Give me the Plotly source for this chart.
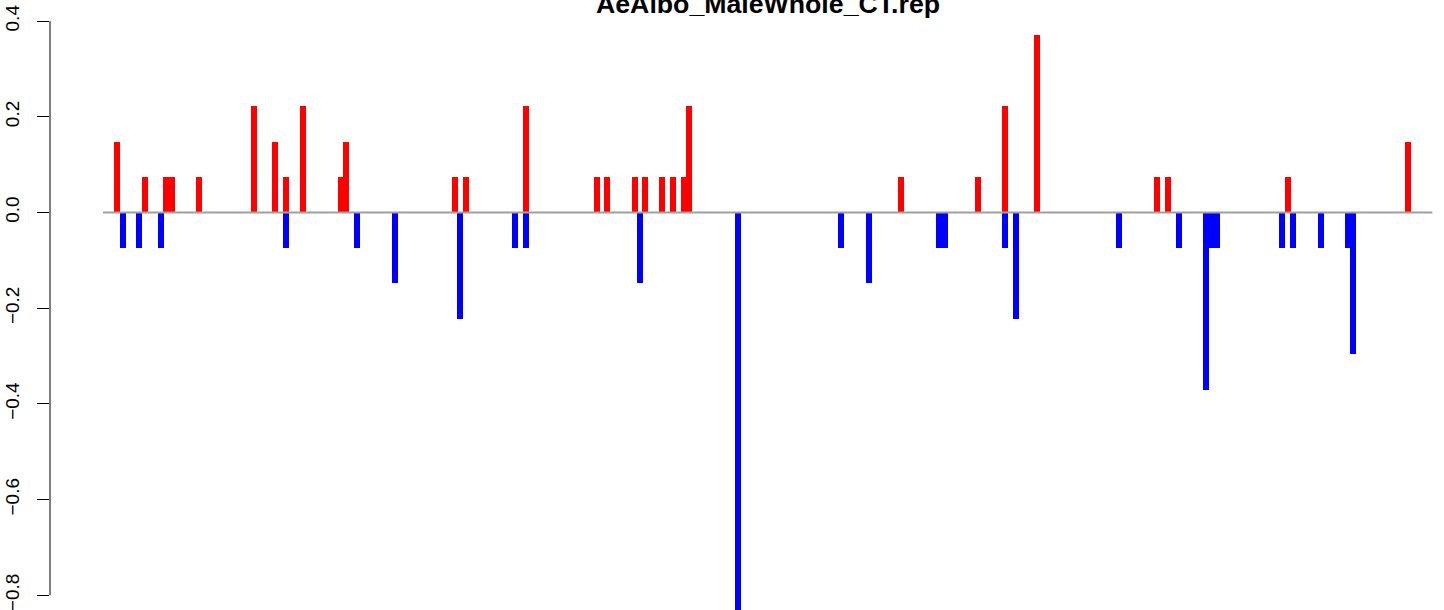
import plotly.graph_objects as go

# ---- data (positions in bins, values) ----
title_text = "AeAlbo_MaleWhole_CT.rep"

red_pos = [2.55, 7.64, 11.45, 12.55, 17.45, 27.45, 31.27, 33.27, 36.36, 43.27, 44.18,
           64.0, 66.0, 76.91, 89.82, 91.64, 96.73, 98.55, 101.64, 103.64, 105.64, 106.55,
           145.09, 159.09, 164.0, 169.82, 191.64, 193.64, 215.45, 237.27]
red_val = [0.148, 0.074, 0.074, 0.074, 0.074, 0.222, 0.148, 0.074, 0.222, 0.074, 0.148,
           0.074, 0.074, 0.222, 0.074, 0.074, 0.074, 0.074, 0.074, 0.074, 0.074, 0.222,
           0.074, 0.074, 0.222, 0.370, 0.074, 0.074, 0.074, 0.148]

blue_pos = [3.64, 6.55, 10.55, 33.27, 46.18, 53.09, 64.91, 74.91, 76.91, 97.64, 115.45,
            134.18, 139.27, 152.0, 153.09, 164.0, 166.0, 184.73, 195.64, 200.55, 201.64,
            202.55, 214.36, 216.36, 221.45, 226.36, 227.27]
blue_val = [-0.074, -0.074, -0.074, -0.074, -0.074, -0.148, -0.222, -0.074, -0.074, -0.148, -0.852,
            -0.074, -0.148, -0.074, -0.074, -0.074, -0.222, -0.074, -0.074, -0.370, -0.074,
            -0.074, -0.074, -0.074, -0.074, -0.074, -0.296]

baseline_x = [0, 241.7]
y_ticks = [-0.8, -0.6, -0.4, -0.2, 0.0, 0.2, 0.4]

fig = go.Figure()
fig.add_trace(go.Bar(x=red_pos, y=red_val, width=1.1, marker=dict(color="#ff0000", line=dict(width=0)),
                     showlegend=False, hoverinfo="x+y"))
fig.add_trace(go.Bar(x=blue_pos, y=blue_val, width=1.1, marker=dict(color="#0000ff", line=dict(width=0)),
                     showlegend=False, hoverinfo="x+y"))
fig.add_trace(go.Scatter(x=baseline_x, y=[0, 0], mode="lines",
                         line=dict(color="#a0a0a0", width=2), showlegend=False, hoverinfo="skip"))

font_family = "Liberation Sans, Arial, Helvetica, sans-serif"

fig.update_layout(
    width=1444, height=610,
    margin=dict(l=50, r=0, t=0, b=0, pad=0, autoexpand=False),
    paper_bgcolor="white", plot_bgcolor="white",
    barmode="overlay", bargap=0,
    font=dict(family=font_family, size=19, color="black"),
    xaxis=dict(range=[-9.636, 243.82], visible=False, fixedrange=True, automargin=False),
    yaxis=dict(range=[-0.8307, 0.4441], showgrid=False, zeroline=False, showline=False,
               automargin=False, ticklabeloverflow="allow",
               tickmode="array", tickvals=y_ticks, tickformat=".1f",
               ticks="outside", ticklen=12, tickwidth=1, tickcolor="black",
               tickangle=-90, ticklabelstandoff=10,
               tickfont=dict(family=font_family, size=19, color="black"), fixedrange=True),
    shapes=[dict(type="line", xref="paper", yref="y", x0=0, x1=0, y0=-0.8, y1=0.4,
                 line=dict(color="black", width=1))],
    annotations=[dict(text="<b>" + title_text + "</b>", xref="paper", yref="paper",
                      x=0.5154, y=0.9934, xanchor="center", yanchor="middle", showarrow=False,
                      font=dict(family=font_family, size=26.7, color="black"))],
)

fig.write_html("out.html", config={"displayModeBar": False},
               post_script="document.body.style.margin='0';document.body.style.overflow='hidden';")
